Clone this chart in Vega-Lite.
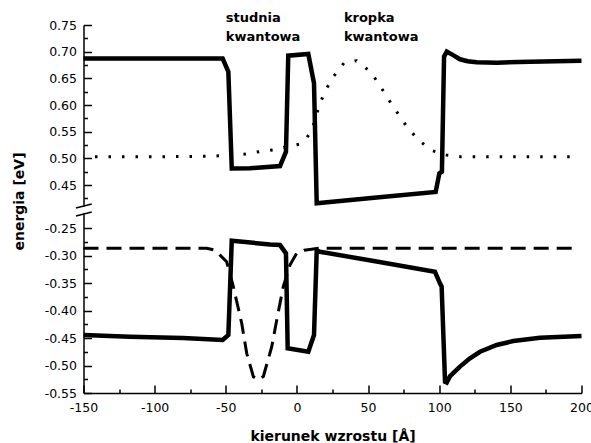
{
  "$schema": "https://vega.github.io/schema/vega-lite/v6.json",
  "width": 498,
  "height": 368,
  "autosize": {"type": "none"},
  "padding": {"left": 83.5, "top": 25, "right": 9.5, "bottom": 50},
  "background": "white",
  "config": {"view": {"stroke": null}, "font": "DejaVu Sans"},
  "datasets": {
    "cb": [
      {"x": -150, "y": 0.687}, {"x": -100, "y": 0.687}, {"x": -52.2, "y": 0.687}, {"x": -48.2, "y": 0.6625},
      {"x": -45.8, "y": 0.481}, {"x": -32.9, "y": 0.4813}, {"x": -11.9, "y": 0.4856}, {"x": -7.7, "y": 0.5124},
      {"x": -6.1, "y": 0.6925}, {"x": 8.0, "y": 0.6956}, {"x": 12.0, "y": 0.6407}, {"x": 13.9, "y": 0.4157},
      {"x": 56.0, "y": 0.4267}, {"x": 97.5, "y": 0.437}, {"x": 100.1, "y": 0.4719}, {"x": 101.9, "y": 0.4749},
      {"x": 103.4, "y": 0.6906}, {"x": 105.3, "y": 0.700}, {"x": 109.5, "y": 0.694}, {"x": 114.6, "y": 0.6857},
      {"x": 120, "y": 0.682}, {"x": 126.3, "y": 0.6801}, {"x": 140.4, "y": 0.6793}, {"x": 163.8, "y": 0.6812},
      {"x": 200, "y": 0.6831}
    ],
    "vb": [
      {"x": -150, "y": -0.4445}, {"x": -117.3, "y": -0.4476}, {"x": -80, "y": -0.450}, {"x": -52.2, "y": -0.4536},
      {"x": -48.2, "y": -0.4445}, {"x": -45.8, "y": -0.273}, {"x": -18.9, "y": -0.280}, {"x": -11.9, "y": -0.281},
      {"x": -7.7, "y": -0.296}, {"x": -6.5, "y": -0.4687}, {"x": 8.0, "y": -0.4749}, {"x": 12.0, "y": -0.4445},
      {"x": 13.9, "y": -0.2913}, {"x": 16.2, "y": -0.2931}, {"x": 56.0, "y": -0.311}, {"x": 97.0, "y": -0.3295},
      {"x": 100.5, "y": -0.3505}, {"x": 101.7, "y": -0.3567}, {"x": 104.1, "y": -0.5295}, {"x": 105.3, "y": -0.531},
      {"x": 107.6, "y": -0.5195}, {"x": 114.6, "y": -0.502}, {"x": 121.6, "y": -0.487}, {"x": 128.7, "y": -0.475},
      {"x": 140.4, "y": -0.4627}, {"x": 152.1, "y": -0.4555}, {"x": 170.8, "y": -0.4495}, {"x": 200, "y": -0.4465}
    ],
    "el": [
      {"x": -150, "y": 0.503}, {"x": -100, "y": 0.503}, {"x": -60, "y": 0.504}, {"x": -45, "y": 0.506},
      {"x": -36.5, "y": 0.508}, {"x": -26.4, "y": 0.5125}, {"x": -16.1, "y": 0.516}, {"x": -6.8, "y": 0.522},
      {"x": 2.2, "y": 0.527}, {"x": 6, "y": 0.535}, {"x": 10.4, "y": 0.552}, {"x": 16.2, "y": 0.603},
      {"x": 20.4, "y": 0.629}, {"x": 25.6, "y": 0.653}, {"x": 33.1, "y": 0.679}, {"x": 42, "y": 0.683},
      {"x": 51.8, "y": 0.662}, {"x": 58.4, "y": 0.636}, {"x": 64.2, "y": 0.611}, {"x": 70.5, "y": 0.586},
      {"x": 77.6, "y": 0.558}, {"x": 86, "y": 0.533}, {"x": 95.4, "y": 0.514}, {"x": 105.2, "y": 0.506},
      {"x": 115, "y": 0.503}, {"x": 195, "y": 0.503}
    ],
    "ho": [
      {"x": -150, "y": -0.287}, {"x": -63.4, "y": -0.287}, {"x": -58, "y": -0.290}, {"x": -55.3, "y": -0.296},
      {"x": -49.4, "y": -0.3113}, {"x": -44.7, "y": -0.3567}, {"x": -38.8, "y": -0.4233}, {"x": -35.3, "y": -0.4778},
      {"x": -30.6, "y": -0.5204}, {"x": -27.2, "y": -0.526}, {"x": -23.6, "y": -0.520}, {"x": -17.7, "y": -0.4658},
      {"x": -14.2, "y": -0.4173}, {"x": -9.6, "y": -0.3567}, {"x": -4.9, "y": -0.3173}, {"x": -0.2, "y": -0.296},
      {"x": 5, "y": -0.2905}, {"x": 10.4, "y": -0.2887}, {"x": 15, "y": -0.287}, {"x": 195, "y": -0.287}
    ],
    "lbl": [
      {"x": -50, "y": 0.7562, "t": "studnia\nkwantowa"},
      {"x": 33, "y": 0.7562, "t": "kropka\nkwantowa"}
    ],
    "gap": [
      {"x": -150, "y": 0.40875, "y2": -0.2227}
    ],
    "slash": [
      {"x": -155.3, "x2": -144.2, "y": 0.3035, "y2": 0.4144},
      {"x": -155.3, "x2": -144.2, "y": -0.2282, "y2": -0.1174}
    ]
  },
  "encoding": {
    "x": {
      "field": "x", "type": "quantitative",
      "scale": {"domain": [-150, 200], "nice": false, "zero": false},
      "title": "kierunek wzrostu [Å]",
      "axis": {
        "values": [-150, -125, -100, -75, -50, -25, 0, 25, 50, 75, 100, 125, 150, 175, 200],
        "labelExpr": "datum.value % 50 != 0 ? '' : '' + datum.value",
        "tickSize": {"condition": {"test": "datum.value % 50 != 0", "value": -4}, "value": -8},
        "grid": false,
        "domainColor": "black", "domainWidth": 1.5,
        "tickColor": "black", "tickWidth": 1.5,
        "labelFont": "DejaVu Sans", "labelFontSize": 12.5, "labelColor": "black",
        "labelPadding": 16, "labelFlush": false, "labelOverlap": false,
        "titleFont": "DejaVu Sans", "titleFontSize": 14, "titleFontWeight": "bold", "titleColor": "black",
        "titleY": 47, "titleBaseline": "alphabetic"
      }
    },
    "y": {
      "field": "y", "type": "quantitative",
      "scale": {"domain": [-0.55, -0.2227, 0.40875, 0.75], "range": [368, 188, 182, 0], "nice": false, "zero": false},
      "title": "energia [eV]",
      "axis": {
        "values": [-0.55, -0.525, -0.5, -0.475, -0.45, -0.425, -0.4, -0.375, -0.35, -0.325, -0.3, -0.275, -0.25, 0.425, 0.45, 0.475, 0.5, 0.525, 0.55, 0.575, 0.6, 0.625, 0.65, 0.675, 0.7, 0.725, 0.75],
        "labelExpr": "abs(datum.value*20 - round(datum.value*20)) > 0.01 ? '' : replace(format(datum.value, '.2f'), '\u2212', '-')",
        "tickSize": {"condition": {"test": "abs(datum.value*20 - round(datum.value*20)) > 0.01", "value": -4}, "value": -8},
        "grid": false,
        "domainColor": "black", "domainWidth": 1.5,
        "tickColor": "black", "tickWidth": 1.5,
        "labelFont": "DejaVu Sans", "labelFontSize": 12.5, "labelColor": "black",
        "labelPadding": 15, "labelFlush": false, "labelOverlap": false,
        "titleFont": "DejaVu Sans", "titleFontSize": 14, "titleFontWeight": "bold", "titleColor": "black",
        "titleX": -64, "titleY": 176, "titleBaseline": "middle", "titleAngle": -90
      }
    }
  },
  "layer": [
    {"data": {"name": "gap"}, "mark": {"type": "rule", "color": "white", "strokeWidth": 4}, "encoding": {"y2": {"field": "y2"}}},
    {"data": {"name": "slash"}, "mark": {"type": "rule", "color": "black", "strokeWidth": 1.5}, "encoding": {"x2": {"field": "x2"}, "y2": {"field": "y2"}}},
    {"data": {"name": "el"}, "mark": {"type": "line", "color": "black", "strokeWidth": 3, "strokeDash": [2.5, 11], "strokeDashOffset": 2}},
    {"data": {"name": "ho"}, "mark": {"type": "line", "color": "black", "strokeWidth": 3, "strokeDash": [15, 8]}},
    {"data": {"name": "cb"}, "mark": {"type": "line", "color": "black", "strokeWidth": 4.5}},
    {"data": {"name": "vb"}, "mark": {"type": "line", "color": "black", "strokeWidth": 4.5}},
    {"data": {"name": "lbl"}, "mark": {"type": "text", "align": "left", "baseline": "alphabetic", "font": "DejaVu Sans", "fontSize": 13, "fontWeight": "bold", "lineBreak": "\n", "lineHeight": 19, "color": "black"}, "encoding": {"text": {"field": "t"}}}
  ]
}
